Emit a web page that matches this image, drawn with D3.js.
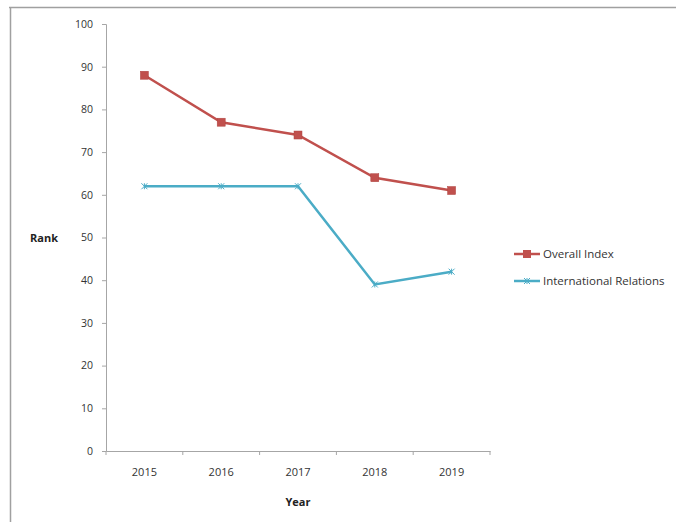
<!DOCTYPE html>
<html><head><meta charset="utf-8">
<script src="https://cdn.jsdelivr.net/npm/d3@7"></script>
<style>html,body{margin:0;padding:0;background:#fff;}svg{display:block;}</style>
</head><body>
<svg id="chart" width="676" height="522"></svg>
<script>
const years = ["2015", "2016", "2017", "2018", "2019"];
const overallIndex = [88, 77, 74, 64, 61];
const internationalRelations = [62, 62, 62, 39, 42];
const yTicks = [0, 10, 20, 30, 40, 50, 60, 70, 80, 90, 100];
const seriesNames = ["Overall Index", "International Relations"];

const svg = d3.select("#chart");
const font = "'Open Sans', 'Liberation Sans', sans-serif";

// frame
svg.append("line").attr("x1", 9).attr("x2", 676).attr("y1", 7.5).attr("y2", 7.5).attr("stroke", "#a0a0a0").attr("stroke-width", 1.5);
svg.append("line").attr("x1", 10.5).attr("x2", 10.5).attr("y1", 7).attr("y2", 522).attr("stroke", "#a0a0a0").attr("stroke-width", 1.5);

const x = d3.scaleBand().domain(years).range([106, 490]);
const y = d3.scaleLinear().domain([0, 100]).range([451, 24]);

// y axis
const yAxis = svg.append("g").attr("transform", "translate(106,0)")
  .call(d3.axisLeft(y).tickValues(yTicks).tickSize(4).tickPadding(9));
yAxis.select(".domain").attr("stroke", "#a6a6a6");
yAxis.selectAll(".tick line").attr("stroke", "#a6a6a6");
yAxis.selectAll("text").attr("font-family", font).attr("font-size", 10.5).attr("fill", "#333");

// x axis
const xAxis = svg.append("g").attr("transform", "translate(0,451)")
  .call(d3.axisBottom(x).tickSize(0).tickPadding(17));
xAxis.select(".domain").attr("stroke", "#a6a6a6");
xAxis.selectAll("text").attr("font-family", font).attr("font-size", 11).attr("fill", "#333");
// boundary ticks
const bounds = years.map(d => x(d)).concat([x(years[years.length-1]) + x.bandwidth()]);
xAxis.selectAll(".btick").data(bounds).enter().append("line")
  .attr("x1", d => d).attr("x2", d => d).attr("y1", 0).attr("y2", 4).attr("stroke", "#a6a6a6");

// titles
svg.append("text").attr("x", 44).attr("y", 242).attr("text-anchor", "middle")
  .attr("font-family", font).attr("font-size", 11).attr("font-weight", "bold").attr("fill", "#222").text("Rank");
svg.append("text").attr("x", 298).attr("y", 506).attr("text-anchor", "middle")
  .attr("font-family", font).attr("font-size", 11).attr("font-weight", "bold").attr("fill", "#222").text("Year");

const cx = d => x(d) + x.bandwidth() / 2;
const line = d3.line().x(d => cx(d.year)).y(d => y(d.v));

const redCol = "#c0504d", blueCol = "#4bacc6";
const ovData = years.map((yr, i) => ({year: yr, v: overallIndex[i]}));
const irData = years.map((yr, i) => ({year: yr, v: internationalRelations[i]}));

svg.append("path").datum(irData).attr("d", line).attr("fill", "none").attr("stroke", blueCol).attr("stroke-width", 2.5);
svg.selectAll(".irm").data(irData).enter().append("path")
  .attr("transform", d => `translate(${cx(d.year)},${y(d.v)})`)
  .attr("d", "M-3,-3L3,3M-3,3L3,-3M0,-3L0,3").attr("stroke", blueCol).attr("stroke-width", 1);

svg.append("path").datum(ovData).attr("d", line).attr("fill", "none").attr("stroke", redCol).attr("stroke-width", 2.5);
svg.selectAll(".ovm").data(ovData).enter().append("rect")
  .attr("x", d => cx(d.year) - 4).attr("y", d => y(d.v) - 4).attr("width", 8).attr("height", 8)
  .attr("fill", redCol).attr("stroke", "#b04440").attr("stroke-width", 0.5);

// legend
const lg = svg.append("g");
const ly = [254, 281];
[redCol, blueCol].forEach((c, i) => {
  lg.append("line").attr("x1", 514).attr("x2", 540).attr("y1", ly[i]).attr("y2", ly[i]).attr("stroke", c).attr("stroke-width", 2.5);
  if (i === 0) lg.append("rect").attr("x", 523).attr("y", ly[i] - 4).attr("width", 8).attr("height", 8).attr("fill", c);
  else lg.append("path").attr("transform", `translate(527,${ly[i]})`).attr("d", "M-3,-3L3,3M-3,3L3,-3M0,-3L0,3").attr("stroke", c);
  lg.append("text").attr("x", 543).attr("y", ly[i] + 4).attr("font-family", font).attr("font-size", 11.5)
    .attr("fill", "#333").text(seriesNames[i]);
});
</script>
</body></html>
